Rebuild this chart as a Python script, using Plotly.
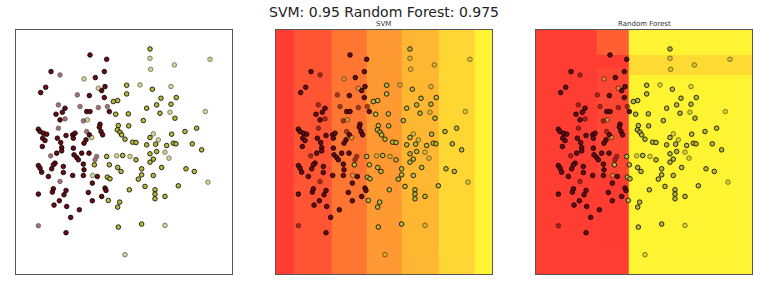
import plotly.graph_objects as go

# ---- data (feature space units) ----
train0_x = [24.0, 29.0, 12.3, 28.3, 25.6, 10.7, 9.2, 27.5, 28.5, 23.8, 28.3, 16.5, 15.7, 13.8, 23.0, 24.0, 29.8,
            15.0, 27.0, 26.8, 8.5, 9.0, 10.0, 11.0, 9.8, 10.5, 14.2, 16.8, 18.8, 19.5, 19.0, 23.8, 27.3, 27.8,
            22.8, 22.2, 15.2, 9.7, 15.5, 15.5, 19.0, 14.0, 19.2, 20.0, 21.5, 23.7, 20.5, 8.5, 9.0, 9.5, 12.5,
            13.5, 13.0, 16.0, 22.0, 16.0, 22.2, 11.5, 18.8, 22.0, 26.2, 24.7, 13.0, 12.7, 16.8, 23.5, 28.5,
            28.8, 8.5, 16.2, 27.5, 14.8, 24.7, 13.2, 17.0, 20.8, 18.2, 16.8]
train0_y = [66.0, 64.7, 61.0, 61.0, 59.2, 56.3, 54.7, 55.3, 56.5, 53.8, 53.2, 50.0, 48.8, 48.2, 49.0, 49.0, 49.0,
            46.5, 45.2, 44.3, 43.7, 43.0, 42.5, 42.2, 41.0, 40.3, 41.0, 41.8, 42.0, 42.5, 41.0, 42.0, 43.0, 42.0,
            40.5, 39.5, 39.7, 38.5, 38.2, 37.2, 38.0, 36.5, 36.0, 35.2, 36.5, 36.5, 34.5, 32.8, 32.0, 30.8, 31.8,
            33.5, 33.0, 32.5, 33.2, 30.7, 31.5, 29.5, 29.8, 29.8, 29.5, 27.5, 25.8, 24.8, 25.3, 24.7, 26.0,
            25.3, 24.2, 24.0, 23.5, 22.2, 22.2, 20.9, 20.5, 19.5, 17.2, 12.6]

test0_x = [15.0, 20.2, 14.5, 21.0, 26.5, 29.2, 16.5, 22.0, 14.5, 23.0, 12.2, 26.0, 25.5, 15.0, 8.5]
test0_y = [60.0, 54.0, 51.0, 50.5, 50.2, 50.5, 46.8, 46.2, 44.0, 43.0, 35.7, 35.5, 34.5, 28.0, 14.7]

train1_x = [42.0, 35.0, 42.7, 35.0, 32.3, 31.0, 45.3, 49.9, 44.0, 48.3, 41.0, 31.7, 35.5, 45.0, 49.5, 40.0,
            32.5, 35.6, 32.2, 33.0, 33.5, 34.5, 42.0, 48.5, 52.5, 56.0, 36.8, 37.8, 41.0, 43.7, 47.0, 49.0,
            49.8, 54.7, 57.5, 44.0, 42.0, 29.0, 33.8, 37.8, 43.0, 42.0, 25.3, 29.8, 32.3, 33.3, 39.5, 45.5,
            52.8, 55.3, 29.2, 30.0, 39.5, 43.0, 38.5, 40.5, 50.5, 35.8, 43.5, 43.5, 46.5, 29.5, 43.5, 32.9,
            32.3, 32.5, 39.5]
train1_y = [67.8, 56.9, 55.7, 54.3, 52.3, 52.0, 53.0, 53.2, 51.0, 51.2, 50.0, 48.2, 48.3, 48.5, 47.0, 46.3,
            44.8, 44.7, 43.5, 42.8, 42.0, 40.7, 41.2, 42.2, 43.0, 44.0, 39.8, 39.7, 39.0, 39.2, 38.8, 39.5,
            39.3, 39.3, 37.5, 37.0, 36.3, 35.5, 35.8, 34.5, 34.7, 33.8, 33.0, 33.0, 32.2, 31.0, 31.8, 32.2,
            31.8, 31.0, 29.3, 28.8, 30.0, 29.8, 28.7, 26.5, 26.7, 25.5, 25.5, 24.2, 23.5, 22.3, 22.8, 21.8,
            20.3, 14.3, 15.2]

test1_x = [42.0, 42.2, 60.0, 49.3, 22.2, 26.5, 39.0, 48.3, 48.0, 58.6, 23.2, 43.0, 24.5, 44.5, 46.5, 47.7,
           32.0, 36.0, 24.8, 59.4, 46.5, 34.5]
test1_y = [65.0, 61.7, 64.7, 63.0, 58.8, 56.0, 57.0, 56.5, 48.8, 49.0, 46.5, 42.3, 41.2, 40.5, 36.8, 35.0,
           35.7, 35.5, 29.8, 27.8, 14.8, 6.0]

x_range = [1.7, 66.7]
y_range = [0.2, 73.5]

# SVM decision regions (probability of class 1, vertical bands)
svm_x_edges = [1.7, 7.0, 18.5, 29.0, 39.5, 50.5, 61.5, 66.7]
svm_y_edges = [0.2, 73.5]
svm_z = [[0.05, 0.17, 0.33, 0.5, 0.65, 0.8, 0.95]]

# Random forest decision regions
rf_x_edges = [1.7, 20.0, 29.5, 66.7]
rf_y_edges = [0.2, 30.0, 60.0, 62.0, 66.0, 73.5]
rf_z = [[0.05, 0.05, 0.95],
        [0.05, 0.10, 0.95],
        [0.05, 0.10, 0.82],
        [0.05, 0.05, 0.82],
        [0.05, 0.22, 0.95]]

title_text = "SVM: 0.95 Random Forest: 0.975"
panel_titles = ["", "SVM", "Random Forest"]

# ---- figure ----
W, H = 767, 305
autumn = [[0, "rgb(255,0,0)"], [1, "rgb(255,255,0)"]]
c0 = "#6b0a12"
c1 = "#b8b83a"

x_domains = [[15.7 / W, 232.3 / W], [275.7 / W, 492.3 / W], [535.7 / W, 752.3 / W]]
y_domain = [1 - 274 / H, 1 - 30 / H]

fig = go.Figure()

def add_points(k):
    xa = "x" if k == 0 else f"x{k+1}"
    ya = "y" if k == 0 else f"y{k+1}"
    for xs, ys, col, op in [(train0_x, train0_y, c0, 1.0), (train1_x, train1_y, c1, 1.0),
                            (test0_x, test0_y, c0, 0.6), (test1_x, test1_y, c1, 0.6)]:
        fig.add_trace(go.Scatter(x=xs, y=ys, mode="markers", xaxis=xa, yaxis=ya, opacity=op,
                                 marker=dict(size=4.6, color=col, line=dict(color="black", width=0.8)),
                                 showlegend=False, hoverinfo="skip"))

# panel 1: points only
add_points(0)

# panel 2: SVM
fig.add_trace(go.Heatmap(x=svm_x_edges, y=svm_y_edges, z=svm_z, colorscale=autumn, zmin=0, zmax=1,
                         opacity=0.8, showscale=False, xaxis="x2", yaxis="y2", hoverinfo="skip"))
add_points(1)

# panel 3: Random forest
fig.add_trace(go.Heatmap(x=rf_x_edges, y=rf_y_edges, z=rf_z, colorscale=autumn, zmin=0, zmax=1,
                         opacity=0.8, showscale=False, xaxis="x3", yaxis="y3", hoverinfo="skip"))
add_points(2)

axis_style = dict(showline=True, mirror=True, linecolor="#555555", linewidth=1, showgrid=False,
                  zeroline=False, showticklabels=False, ticks="")
layout = dict(width=W, height=H, margin=dict(l=0, r=0, t=0, b=0), paper_bgcolor="white",
              plot_bgcolor="white", font=dict(family="DejaVu Sans", color="#222222"),
              title=dict(text=title_text, x=384 / W, xanchor="center", y=1 - 12 / H, yanchor="middle",
                         font=dict(size=14, color="#222222")))
for k in range(3):
    sx = "" if k == 0 else str(k + 1)
    layout["xaxis" + sx] = dict(domain=x_domains[k], range=x_range, anchor="y" + sx, **axis_style)
    layout["yaxis" + sx] = dict(domain=y_domain, range=y_range, anchor="x" + sx, **axis_style)
fig.update_layout(**layout)

for k in range(3):
    if panel_titles[k]:
        fig.add_annotation(text=panel_titles[k], xref="paper", yref="paper",
                           x=(x_domains[k][0] + x_domains[k][1]) / 2, y=1 - 24 / H,
                           xanchor="center", yanchor="middle", showarrow=False,
                           font=dict(size=7, color="#333333"))

fig.write_html("out.html", config={"displayModeBar": False},
               post_script="document.body.style.margin='0px';document.body.style.overflow='hidden';")
